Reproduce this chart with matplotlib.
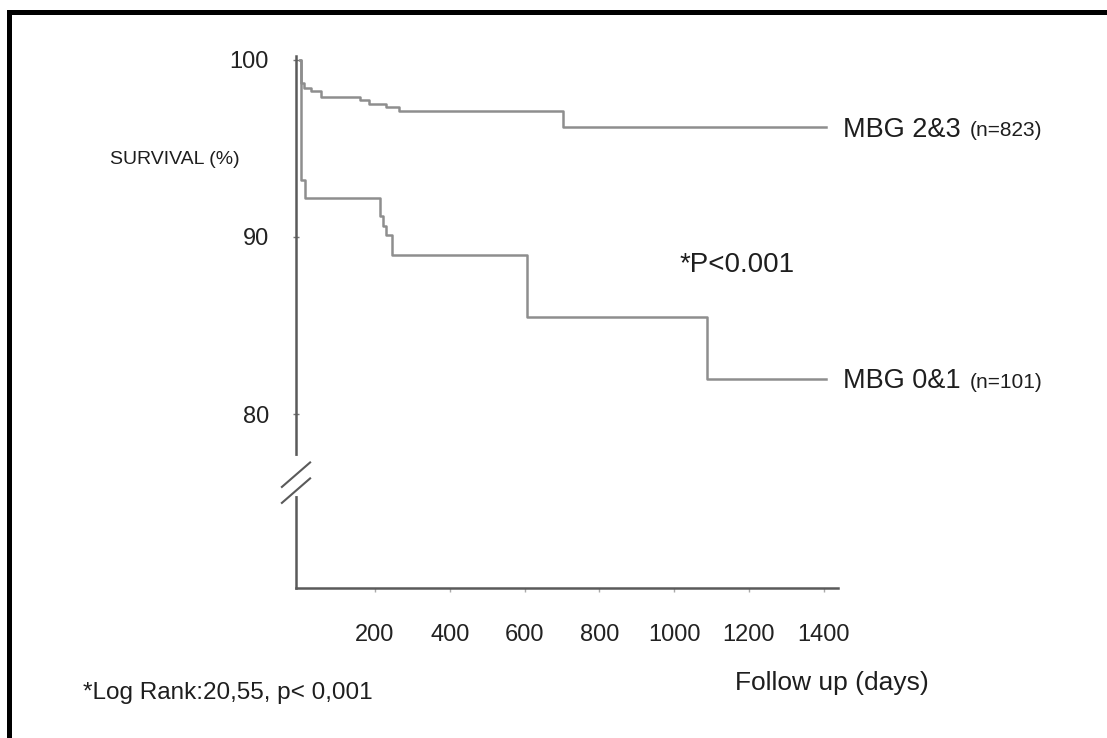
import matplotlib
matplotlib.use("Agg")
import matplotlib.pyplot as plt
import matplotlib.patches as patches
from matplotlib.lines import Line2D

# Kaplan-Meier step data
days_23 = [0, 2, 10, 30, 55, 160, 185, 230, 265, 703, 1405]
surv_23 = [100, 98.7, 98.4, 98.2, 97.9, 97.7, 97.5, 97.3, 97.1, 96.2, 96.2]

days_01 = [0, 3, 12, 214, 222, 230, 246, 607, 1087, 1405]
surv_01 = [100, 93.2, 92.2, 91.2, 90.6, 90.1, 89.0, 85.5, 82.0, 82.0]

xticks = [200, 400, 600, 800, 1000, 1200, 1400]
yticks = [80, 90, 100]

W, H = 1107, 738
plt.rcParams['font.family'] = ['Liberation Sans', 'DejaVu Sans']

fig = plt.figure(figsize=(W / 100, H / 100), dpi=100)
ax = fig.add_axes([296 / W, 1 - 588 / H, 542 / W, 532 / H])

line_c = '#8e8e8e'
ax.plot(days_23, surv_23, drawstyle='steps-post', color=line_c, lw=1.8)
ax.plot(days_01, surv_01, drawstyle='steps-post', color=line_c, lw=1.8)

ax.set_xlim(-11, 1438)
ax.set_ylim(70.2, 100.2)
ax.set_xticks(xticks)
ax.set_yticks(yticks)
ax.spines[['top', 'right']].set_visible(False)
for s in ['left', 'bottom']:
    ax.spines[s].set_color('#5a5a5a')
    ax.spines[s].set_linewidth(1.8)
ax.tick_params(axis='x', direction='out', length=3, width=1, color='#aaaaaa',
               pad=23, labelsize=17, labelcolor='#222222')
ax.tick_params(axis='y', direction='inout', length=5, width=1, color='#777777',
               pad=17, labelsize=17, labelcolor='#222222')

# axis break marks
for y0 in [0.18, 0.215]:
    ax.plot([0, 0], [y0 - 0.004, y0 + 0.03], color='white', lw=3,
            transform=ax.transAxes, clip_on=False, zorder=4)
for y0 in [0.16, 0.19]:
    ax.add_line(Line2D([-0.026, 0.026], [y0, y0 + 0.046], color='#5a5a5a', lw=1.5,
                       transform=ax.transAxes, clip_on=False, zorder=5))

def ftext(px, py, s, size, **kw):
    fig.text(px / W, 1 - py / H, s, fontsize=size, color='#1e1e1e',
             va='center', ha='left', **kw)

ftext(843, 130, 'MBG 2&3', 19.5)
ftext(970, 131, '(n=823)', 15)
ftext(843, 381, 'MBG 0&1', 19.5)
ftext(970, 382, '(n=101)', 15)
ftext(680, 265, '*P<0.001', 20)
ftext(110, 160, 'SURVIVAL (%)', 14)
ftext(735, 683, 'Follow up (days)', 19)
ftext(83, 693, '*Log Rank:20,55, p< 0,001', 17.5)

# black frame on left and top edges
fig.add_artist(patches.Rectangle((7 / W, 0), 5 / W, 1 - 10 / H, transform=fig.transFigure,
                                 color='black', lw=0))
fig.add_artist(patches.Rectangle((7 / W, 1 - 15 / H), 1, 5 / H, transform=fig.transFigure,
                                 color='black', lw=0))

fig.savefig('out.png', dpi=100)
